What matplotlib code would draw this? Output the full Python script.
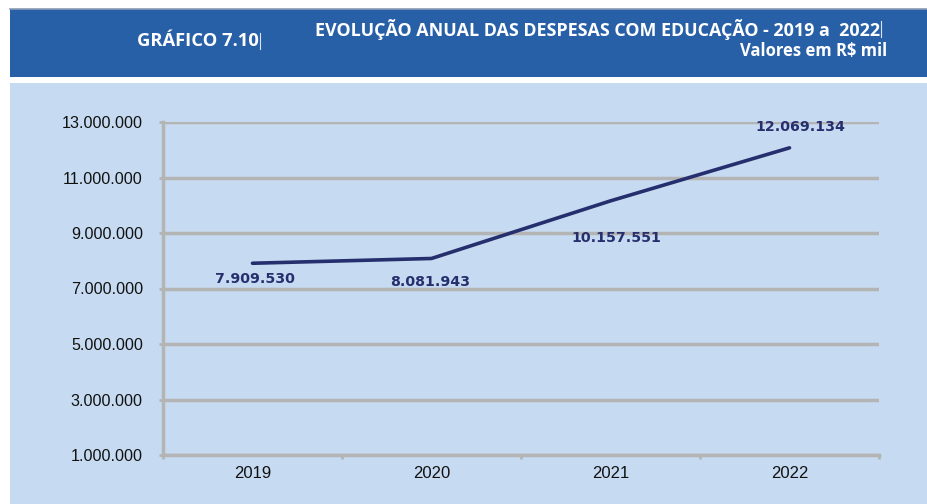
import matplotlib
matplotlib.use("Agg")
import matplotlib.pyplot as plt
from matplotlib.patches import Rectangle

# Data (R$ mil)
years = ["2019", "2020", "2021", "2022"]
despesas = [7909530, 8081943, 10157551, 12069134]
y_ticks = [1000000, 3000000, 5000000, 7000000, 9000000, 11000000, 13000000]
y_tick_labels = ["1.000.000", "3.000.000", "5.000.000", "7.000.000",
                 "9.000.000", "11.000.000", "13.000.000"]
# label offsets in points (dx, dy) for each value label
label_offsets = [(1.5, -11), (-1, -17), (4, -27), (8, 15)]

W, H = 928, 504
fig = plt.figure(figsize=(W / 100, H / 100), dpi=100)
fig.patch.set_facecolor("white")

def fx(px):
    return px / W

def fy(py):
    return 1 - py / H

HEADER = "#2860A8"
PANEL = "#C6DAF1"
GRID = "#B4B4B4"
NAVY = "#262F6E"

# Background: header band and chart panel
bg = fig.add_axes([0, 0, 1, 1], zorder=0)
bg.set_xlim(0, W)
bg.set_ylim(H, 0)
bg.axis("off")
bg.add_patch(Rectangle((10, 9), W - 10, 68, facecolor=HEADER, edgecolor="none"))
bg.plot([10, W], [9, 9], color="#8A9BB8", lw=1.2)
bg.add_patch(Rectangle((10, 83), W - 10, H - 83, facecolor=PANEL, edgecolor="none"))

hfont = "Open Sans"
bg.text(137, 41, "GRÁFICO 7.10", color="white", fontsize=13.2,
        fontweight="bold", family=hfont, ha="left", va="center")
bg.text(315, 29, "EVOLUÇÃO ANUAL DAS DESPESAS COM EDUCAÇÃO - 2019 a  2022",
        color="white", fontsize=12.9, fontweight="bold", family=hfont,
        ha="left", va="center")
bg.text(887, 51, "Valores em R$ mil", color="white", fontsize=12.0,
        fontweight="bold", family=hfont, ha="right", va="center")
# text cursors
bg.plot([260, 260], [33, 49], color="#D8E2F0", lw=0.8)
bg.plot([881, 881], [21, 37], color="#D8E2F0", lw=0.8)

# Plot area
ax = fig.add_axes([fx(163), fy(455), fx(879) - fx(163), fy(122) - fy(455)], zorder=2)
ax.set_facecolor("none")
x = list(range(len(years)))
ax.plot(x, despesas, color=NAVY, lw=2.6, solid_capstyle="round", zorder=3)
ax.set_xlim(-0.5, len(years) - 0.5)
ax.set_ylim(y_ticks[0], y_ticks[-1])

ax.set_yticks(y_ticks)
ax.set_yticklabels(y_tick_labels, family="Liberation Sans", fontsize=11.6, color="#111111")
ax.set_xticks(x)
ax.set_xticklabels(years, family="Liberation Sans", fontsize=12, color="#111111")
ax.set_xticks([i - 0.5 for i in range(len(years) + 1)], minor=True)
ax.tick_params(axis="x", which="major", length=0, pad=8)
ax.tick_params(axis="x", which="minor", length=3, width=2, color=GRID, direction="out")
ax.tick_params(axis="y", length=3, width=2, color=GRID, pad=11.5)

ax.yaxis.grid(True, color=GRID, lw=2.5, zorder=1)
ax.set_axisbelow(True)
for side in ("top", "right"):
    ax.spines[side].set_visible(False)
for side in ("left", "bottom"):
    ax.spines[side].set_color(GRID)
    ax.spines[side].set_linewidth(2.5)

for xi, v, (dx, dy) in zip(x, despesas, label_offsets):
    lbl = f"{v:,}".replace(",", ".")
    ax.annotate(lbl, (xi, v), xytext=(dx, dy), textcoords="offset points",
                ha="center", va="center", fontsize=10.2, fontweight="bold",
                family="DejaVu Sans", color=NAVY, zorder=4)

fig.savefig("out.png", dpi=100, facecolor="white")
